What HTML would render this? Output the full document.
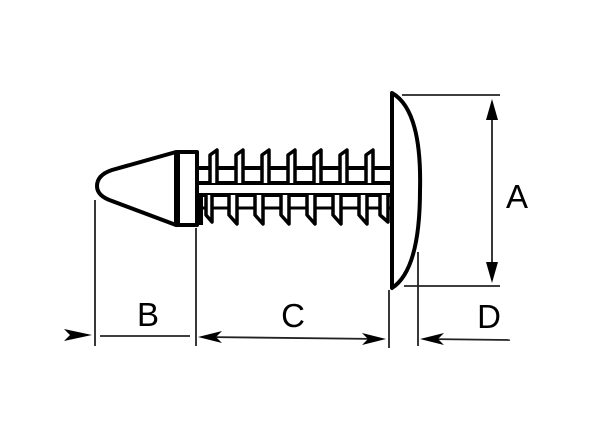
<!DOCTYPE html>
<html><head><style>html,body{margin:0;padding:0;background:#fff}svg{display:block}</style></head>
<body>
<svg width="600" height="442" viewBox="0 0 600 442" xmlns="http://www.w3.org/2000/svg">
<rect width="600" height="442" fill="#fff"/>
<g fill="none" stroke="#000" stroke-width="4" stroke-linejoin="round">
  <path d="M176,152 L112,170 Q97,175 97,186 Q97,196 112,201 L176,225 Z" fill="#fff"/>
  <rect x="178" y="152" width="19" height="73" fill="#fff"/>
  <line x1="197" y1="168" x2="392" y2="168"/>
  <line x1="197" y1="183" x2="392" y2="183"/>
  <line x1="197" y1="195" x2="392" y2="195"/>
  <line x1="197" y1="208" x2="392" y2="208" stroke-width="3"/>
</g>
<g fill="#fff" stroke="#000" stroke-width="3.5" stroke-linejoin="round">
  <path d="M210,183 L210,155 L217,150 L217,183"/>
  <path d="M236,183 L236,155 L243,150 L243,183"/>
  <path d="M262,183 L262,155 L269,150 L269,183"/>
  <path d="M288,183 L288,155 L295,150 L295,183"/>
  <path d="M314,183 L314,155 L321,150 L321,183"/>
  <path d="M340,183 L340,155 L347,150 L347,183"/>
  <path d="M366,183 L366,155 L373,150 L373,183"/>
  <path d="M206,195 L206,215 L212,222 L212,195"/>
  <path d="M229,195 L229,215 L237,224 L237,195"/>
  <path d="M255,195 L255,215 L263,224 L263,195"/>
  <path d="M281,195 L281,215 L289,224 L289,195"/>
  <path d="M307,195 L307,215 L315,224 L315,195"/>
  <path d="M333,195 L333,215 L341,224 L341,195"/>
  <path d="M359,195 L359,215 L367,224 L367,195"/>
  <path d="M380,195 L380,215 L388,222 L388,195"/>
</g>
<rect x="197" y="195" width="6" height="30" fill="#000"/>
<path d="M392,93 Q422,110 420,190 Q420,270 392,288 Z" fill="#fff" stroke="#000" stroke-width="4" stroke-linejoin="round"/>
<g stroke="#222" stroke-width="1.8">
  <line x1="95" y1="200" x2="95" y2="346"/>
  <line x1="196" y1="228" x2="196" y2="346"/>
  <line x1="389" y1="290" x2="389" y2="348"/>
  <line x1="418" y1="252" x2="418" y2="346"/>
  <line x1="402" y1="95" x2="500" y2="95"/>
  <line x1="404" y1="286" x2="500" y2="286"/>
  <line x1="492" y1="102" x2="492" y2="280"/>
  <line x1="100" y1="336" x2="190" y2="336"/>
  <line x1="205" y1="337" x2="380" y2="339"/>
  <line x1="425" y1="339" x2="510" y2="340"/>
</g>
<g fill="#000">
  <path d="M492,99 L486,120 L498,120 Z"/>
  <path d="M492,283 L486,262 L498,262 Z"/>
  <path d="M92,335 L64,329 L70,335 L64,341 Z"/>
  <path d="M198,337 L222,331 L216,337 L222,343 Z"/>
  <path d="M386,339 L362,333 L368,339 L362,345 Z"/>
  <path d="M420,339 L444,333 L438,339 L444,345 Z"/>
</g>
<g font-family="Liberation Sans, sans-serif" font-size="33" fill="#000" text-anchor="middle">
  <text x="148" y="326">B</text>
  <text x="293" y="327">C</text>
  <text x="489" y="328">D</text>
  <text x="517" y="208">A</text>
</g>
</svg>
</body></html>
